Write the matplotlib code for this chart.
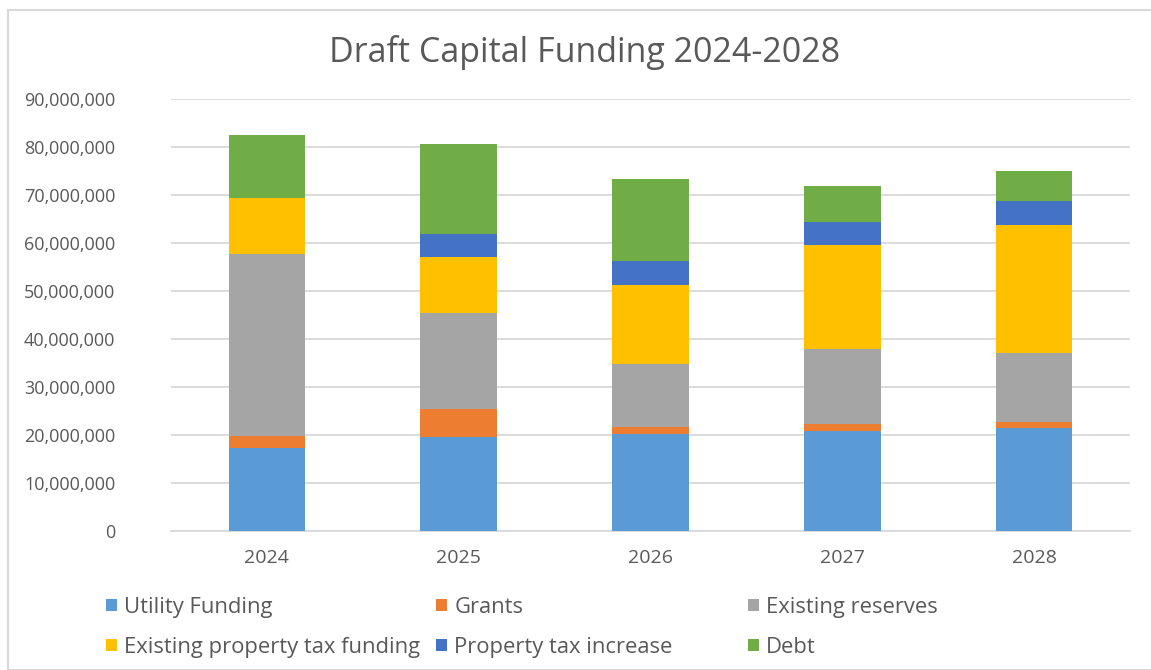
import matplotlib
matplotlib.use("Agg")
import matplotlib.pyplot as plt
from matplotlib.patches import Rectangle, Patch
from matplotlib.ticker import FuncFormatter
import numpy as np

years = ["2024", "2025", "2026", "2027", "2028"]
series_names = [
    "Utility Funding",
    "Grants",
    "Existing reserves",
    "Existing property tax funding",
    "Property tax increase",
    "Debt",
]
utility_funding = [17.2e6, 19.6e6, 20.3e6, 20.8e6, 21.4e6]
grants = [2.6e6, 5.8e6, 1.4e6, 1.4e6, 1.25e6]
existing_reserves = [37.9e6, 20.0e6, 13.0e6, 15.8e6, 14.4e6]
existing_property_tax = [11.6e6, 11.7e6, 16.5e6, 21.5e6, 26.6e6]
property_tax_increase = [0.0, 4.8e6, 5.0e6, 4.85e6, 5.0e6]
debt = [13.3e6, 18.7e6, 17.2e6, 7.6e6, 6.25e6]

colors = ["#5B9BD5", "#ED7D31", "#A5A5A5", "#FFC000", "#4472C4", "#70AD47"]
text_color = "#595959"
grid_color = "#D9D9D9"

plt.rcParams["font.family"] = ["Open Sans", "DejaVu Sans"]

W, H = 1151, 670
fig = plt.figure(figsize=(W / 100, H / 100), dpi=100)
fig.patch.set_facecolor("white")

# chart-area frame
fig.patches.append(Rectangle((8 / W, 0), 1.2, (H - 10) / H, transform=fig.transFigure,
                             fill=False, edgecolor=grid_color, linewidth=1.5, zorder=0))

ax = fig.add_axes([171 / W, (H - 531) / H, (1130 - 171) / W, (531 - 99) / H])
x = np.arange(len(years))
data = [utility_funding, grants, existing_reserves, existing_property_tax,
        property_tax_increase, debt]
bottom = np.zeros(len(years))
handles = []
for vals, name, c in zip(data, series_names, colors):
    vals = np.array(vals)
    ax.bar(x, vals, width=0.40, bottom=bottom, color=c, label=name, zorder=3,
           linewidth=0)
    bottom += vals
    handles.append(Patch(facecolor=c, edgecolor="none", label=name))

ax.set_xlim(-0.5, len(years) - 0.5)
ax.set_ylim(0, 90e6)
ax.set_yticks(np.arange(0, 90e6 + 1, 10e6))
ax.yaxis.set_major_formatter(FuncFormatter(lambda v, p: f"{int(v):,}"))
ax.set_xticks(x)
ax.set_xticklabels(years)
ax.grid(axis="y", color=grid_color, linewidth=1.3, zorder=0)
for s in ["top", "right", "left"]:
    ax.spines[s].set_visible(False)
ax.spines["bottom"].set_color(grid_color)
ax.spines["bottom"].set_linewidth(1.3)
ax.tick_params(axis="both", length=0, labelcolor=text_color, labelsize=14)
ax.tick_params(axis="y", labelsize=13, pad=40)
ax.tick_params(axis="x", pad=13)

fig.text(585 / W, (H - 52) / H, "Draft Capital Funding 2024-2028", ha="center",
         va="center", fontsize=24.5, color=text_color)

# legend laid out in three columns
col_x = [106, 436, 748]
for i, cx in enumerate(col_x):
    hs = [handles[i], handles[i + 3]]
    fig.legend(handles=hs, loc="upper left",
               bbox_to_anchor=(cx / W, (H - 597) / H),
               frameon=False, fontsize=15.8, labelcolor=text_color,
               handlelength=0.48, handleheight=0.48, handletextpad=0.35,
               labelspacing=0.85, borderpad=0, borderaxespad=0)

fig.savefig("out.png", dpi=100, facecolor="white")
